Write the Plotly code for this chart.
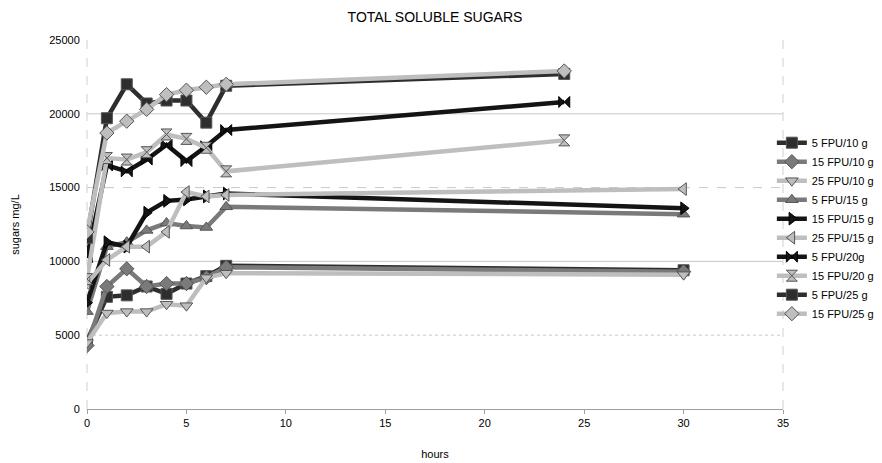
import plotly.graph_objects as go

# ---- data ----
t_short = [0, 1, 2, 3, 4, 5, 6, 7, 24]
t_long = [0, 1, 2, 3, 4, 5, 6, 7, 30]

s_5_10 = [4600, 7600, 7700, 8300, 7800, 8500, 9000, 9700, 9400]
s_15_10 = [4300, 8300, 9500, 8300, 8500, 8500, 8900, 9600, 9300]
s_25_10 = [4500, 6500, 6600, 6600, 7100, 7000, 8900, 9200, 9100]
s_5_15 = [6600, 11000, 11300, 12100, 12600, 12400, 12300, 13700, 13200]
s_15_15 = [7200, 11300, 11000, 13300, 14100, 14200, 14400, 14600, 13600]
s_25_15 = [8500, 10100, 11000, 11000, 12000, 14700, 14400, 14500, 14900]
s_5_20 = [10300, 16500, 16100, 16900, 17900, 16800, 17800, 18900, 20800]
s_15_20 = [8800, 17000, 16900, 17400, 18600, 18300, 17700, 16100, 18200]
s_5_25 = [11600, 19700, 22000, 20700, 20900, 20900, 19400, 21900, 22700]
s_15_25 = [12000, 18700, 19500, 20300, 21300, 21600, 21800, 22000, 22900]

names = ["5 FPU/10 g", "15 FPU/10 g", "25 FPU/10 g", "5 FPU/15 g", "15 FPU/15 g",
         "25 FPU/15 g", "5 FPU/20g", "15 FPU/20 g", "5 FPU/25 g", "15 FPU/25 g"]

y_ticks = [0, 5000, 10000, 15000, 20000, 25000]
x_ticks = [0, 5, 10, 15, 20, 25, 30, 35]

# ---- styles ----
DARK = "#2e2e2e"
BLACK = "#141414"
MID = "#7a7a7a"
LIGHT = "#bebebe"

series = [
    (names[0], t_long, s_5_10, DARK, "square"),
    (names[1], t_long, s_15_10, MID, "diamond"),
    (names[2], t_long, s_25_10, LIGHT, "triangle-down"),
    (names[3], t_long, s_5_15, MID, "triangle-up"),
    (names[4], t_long, s_15_15, BLACK, "triangle-right"),
    (names[5], t_long, s_25_15, LIGHT, "triangle-left"),
    (names[6], t_short, s_5_20, BLACK, "bowtie"),
    (names[7], t_short, s_15_20, LIGHT, "hourglass"),
    (names[8], t_short, s_5_25, DARK, "square"),
    (names[9], t_short, s_15_25, LIGHT, "diamond"),
]

fig = go.Figure()
for name, xs, ys, col, sym in series:
    fig.add_trace(go.Scatter(
        x=xs, y=ys, name=name, mode="lines+markers",
        line=dict(color=col, width=4.5),
        marker=dict(symbol=sym, size=11, color=col,
                    line=dict(color="#555555" if col != BLACK else "#000000", width=1)),
    ))

# gridlines with varied styles (as in the original)
grid_styles = {5000: "dot", 10000: "solid", 15000: "dash", 20000: "solid"}
for yv, dash in grid_styles.items():
    fig.add_shape(type="line", xref="paper", x0=0, x1=1, yref="y", y0=yv, y1=yv,
                  line=dict(color="#c8c8c8", width=1, dash=dash), layer="below")
# vertical frame lines
for xv in (0, 1):
    fig.add_shape(type="line", xref="paper", x0=xv, x1=xv, yref="paper", y0=0, y1=1,
                  line=dict(color="#d0d0d0", width=1, dash="dash"), layer="below")

W, H = 874, 455  # page body adds an 8px offset
fig.update_layout(
    width=W, height=H,
    margin=dict(l=79, r=99, t=32, b=54, autoexpand=False),
    paper_bgcolor="white", plot_bgcolor="white",
    font=dict(family="Liberation Sans, Arial, sans-serif", size=11, color="#000000"),
    title=dict(text="TOTAL SOLUBLE SUGARS", x=(435 - 8) / W, xanchor="center",
               y=1 - 9 / H, yanchor="middle", yref="container",
               font=dict(size=14)),
    showlegend=True,
    legend=dict(x=0.984, y=0.49, xanchor="left", yanchor="middle",
                font=dict(size=11), itemwidth=30, tracegroupgap=0,
                bgcolor="rgba(0,0,0,0)"),
    xaxis=dict(range=[0, 35], tickvals=x_ticks, showgrid=False, zeroline=False,
               showline=True, linecolor="#a0a0a0", linewidth=1,
               ticks="outside", ticklen=4, tickcolor="#a0a0a0", automargin=False,
               title=dict(text="hours", standoff=22, font=dict(size=11))),
    yaxis=dict(range=[0, 25000], tickvals=y_ticks, tickformat="d",
               showgrid=False, zeroline=False, automargin=False,
               showline=False, ticks="outside", ticklen=4, tickcolor="rgba(0,0,0,0)",
               title=dict(text="sugars mg/L", standoff=27, font=dict(size=11))),
)

fig.write_html("out.html")
